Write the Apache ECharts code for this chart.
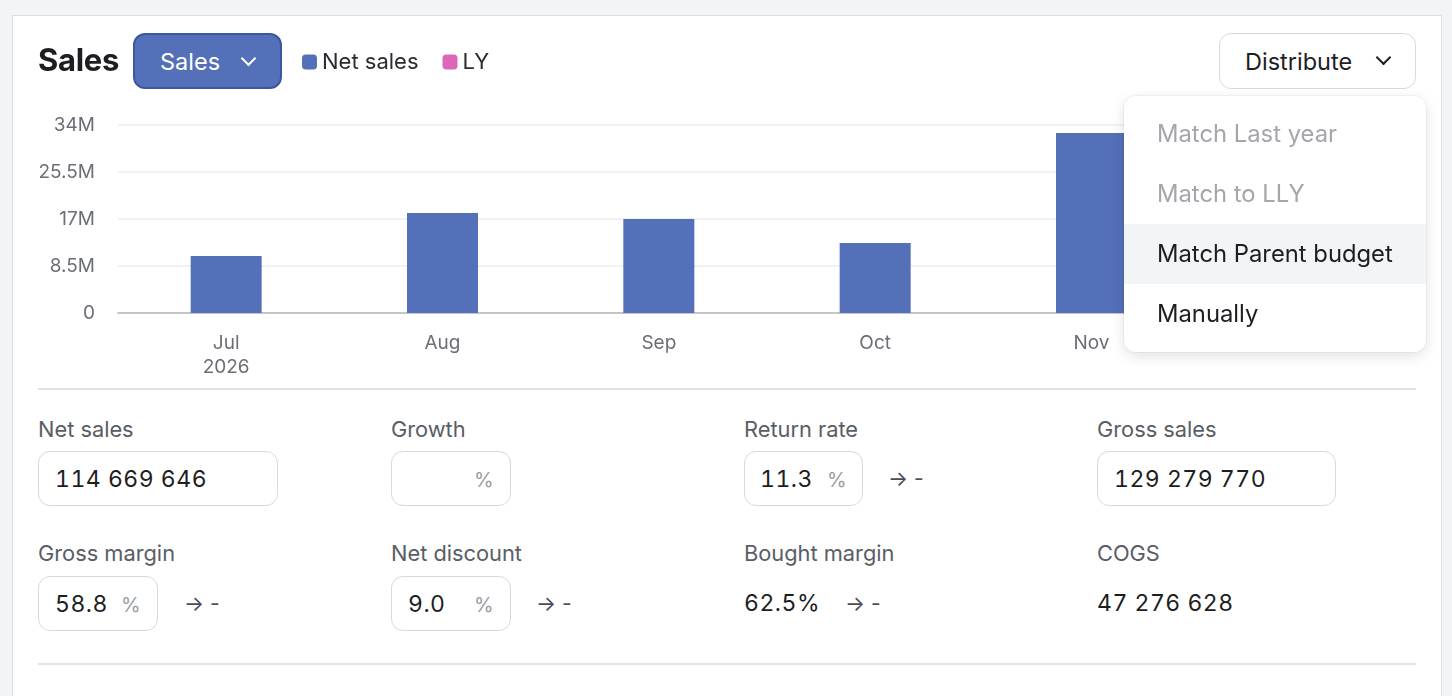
<!DOCTYPE html>
<html>
<head>
<meta charset="utf-8">
<script src="https://cdn.jsdelivr.net/npm/echarts@6/dist/echarts.min.js"></script>
<style>
  html, body { margin: 0; padding: 0; }
  body {
    width: 1452px; height: 696px; overflow: hidden; position: relative;
    background: #f3f4f6; font-family: Inter, "Noto Sans", sans-serif;
  }
  .card {
    position: absolute; left: 12px; top: 15px; width: 1428px; height: 700px;
    background: #fff; border-left: 1.5px solid #dedfe3; border-right: 1.5px solid #dedfe3;
    border-top: 1.5px solid #dedfe3;
  }
  #chart { position: absolute; left: 0; top: 0; width: 1452px; height: 390px; }
  .abs { position: absolute; }
  .title { left: 38px; top: 41px; font-size: 31px; font-weight: 700; color: #1d1e22; letter-spacing: -0.3px; }
  .btn {
    box-sizing: border-box; border-radius: 12px; display: flex; align-items: center;
    font-size: 23.5px;
  }
  .sales-btn { left: 133px; top: 33px; width: 149px; height: 56px; background: #5470b8; border: 2px solid #3c56a4; color: #fff; padding-left: 25px; }
  .dist-btn { left: 1219px; top: 33px; width: 197px; height: 56px; background: #fff; border: 1.5px solid #d7d9de; color: #1d1e22; padding-left: 25px; }
  .chev { position: absolute; top: 21px; width: 9px; height: 9px; border-right: 2px solid currentColor; border-bottom: 2px solid currentColor; transform: rotate(45deg); }
  .menu {
    left: 1124px; top: 96px; width: 302px; height: 256px; background: #fff; border-radius: 12px;
    box-shadow: 0 4px 14px rgba(0,0,0,0.12), 0 0 0 1px rgba(0,0,0,0.04); overflow: hidden; z-index: 5;
  }
  .item { position: absolute; left: 0; width: 302px; height: 60px; line-height: 60px; padding-left: 33px; box-sizing: border-box; font-size: 23.8px; color: #1d1e22; }
  .item.dis { color: #a4a6ac; }
  .item.hl { background: #f3f4f6; }
  .line { height: 2px; background: #e2e3e7; left: 38px; width: 1378px; }
  .lbl { font-size: 21.8px; color: #5a5d65; }
  .inp {
    box-sizing: border-box; height: 55px; border: 1.5px solid #d7d9de; border-radius: 12px;
    font-size: 23px; color: #1d1e22; background: #fff;
  }
  .inp span { position: absolute; top: 13px; }
  .num { font-variant-numeric: tabular-nums; letter-spacing: 0.5px; }
  .pct { color: #9a9ca3; font-size: 20px; }
  .val { font-size: 23px; color: #1d1e22; }
  .arr { font-size: 21px; color: #4a4d55; }
</style>
</head>
<body>
<div class="card"></div>
<div id="chart"></div>

<div class="abs title">Sales</div>
<div class="abs btn sales-btn">Sales<div class="chev" style="left:108px;top:18px"></div></div>
<div class="abs btn dist-btn">Distribute<div class="chev" style="left:158px;top:18px;color:#1d1e22"></div></div>

<div class="abs menu">
  <div class="item dis" style="top:8px">Match Last year</div>
  <div class="item dis" style="top:68px">Match to LLY</div>
  <div class="item hl" style="top:128px">Match Parent budget</div>
  <div class="item" style="top:188px">Manually</div>
</div>

<div class="abs line" style="top:388px"></div>
<div class="abs line" style="top:663px"></div>

<div class="abs lbl" style="left:38px;top:416px">Net sales</div>
<div class="abs inp" style="left:38px;top:451px;width:240px"><span class="num" style="left:16px">114 669 646</span></div>
<div class="abs lbl" style="left:391px;top:416px">Growth</div>
<div class="abs inp" style="left:391px;top:451px;width:120px"><span class="pct" style="left:82px;top:16px">%</span></div>
<div class="abs lbl" style="left:744px;top:416px">Return rate</div>
<div class="abs inp" style="left:744px;top:451px;width:119px"><span class="num" style="left:15px">11.3</span><span class="pct" style="left:82px;top:16px">%</span></div>
<div class="abs arr" style="left:888px;top:466px">→ -</div>
<div class="abs lbl" style="left:1097px;top:416px">Gross sales</div>
<div class="abs inp" style="left:1097px;top:451px;width:239px"><span class="num" style="left:16px">129 279 770</span></div>

<div class="abs lbl" style="left:38px;top:540px">Gross margin</div>
<div class="abs inp" style="left:38px;top:576px;width:120px"><span class="num" style="left:16px">58.8</span><span class="pct" style="left:82px;top:16px">%</span></div>
<div class="abs arr" style="left:184px;top:591px">→ -</div>
<div class="abs lbl" style="left:391px;top:540px">Net discount</div>
<div class="abs inp" style="left:391px;top:576px;width:120px"><span class="num" style="left:16px">9.0</span><span class="pct" style="left:82px;top:16px">%</span></div>
<div class="abs arr" style="left:536px;top:591px">→ -</div>
<div class="abs lbl" style="left:744px;top:540px">Bought margin</div>
<div class="abs val num" style="left:744px;top:589px">62.5%</div>
<div class="abs arr" style="left:845px;top:591px">→ -</div>
<div class="abs lbl" style="left:1097px;top:540px">COGS</div>
<div class="abs val num" style="left:1097px;top:589px">47 276 628</div>

<script>
// 月份与数值
const months = ['Jul', 'Aug', 'Sep', 'Oct', 'Nov', 'Dec'];
const yearLabel = '2026';
const netSales = [10300000, 18100000, 17000000, 12650000, 32550000, 24070000];
const lastYear = [];
const yTicks = [0, 8500000, 17000000, 25500000, 34000000];

function fmtM(v) {
  if (v === 0) return '0';
  return (v / 1000000) + 'M';
}

const chart = echarts.init(document.getElementById('chart'), null, { renderer: 'canvas' });

chart.setOption({
  animation: false,
  textStyle: { fontFamily: 'Inter' },
  color: ['#5470b8', '#de66b8'],
  legend: {
    left: 297,
    top: 46,
    itemWidth: 15,
    itemHeight: 15,
    itemGap: 24,
    icon: 'roundRect',
    textStyle: { fontSize: 22, color: '#2a2c32', padding: [0, 0, 0, 0] },
    data: ['Net sales', 'LY']
  },
  grid: { left: 118, right: 36, top: 125, bottom: 77, containLabel: false },
  xAxis: {
    type: 'category',
    data: months,
    axisTick: { show: false },
    axisLine: { lineStyle: { color: '#c3c5cb', width: 2 } },
    axisLabel: {
      margin: 18,
      fontSize: 19,
      lineHeight: 24,
      color: '#6b6e76',
      formatter: function (v, i) { return i === 0 ? v + '\n' + yearLabel : v; }
    }
  },
  yAxis: {
    type: 'value',
    min: yTicks[0],
    max: yTicks[yTicks.length - 1],
    interval: yTicks[1] - yTicks[0],
    axisLine: { show: false },
    axisTick: { show: false },
    splitLine: { lineStyle: { color: '#ededef', width: 1.5 } },
    axisLabel: { margin: 23, fontSize: 19, color: '#6b6e76', formatter: fmtM }
  },
  series: [
    { name: 'Net sales', type: 'bar', data: netSales, barWidth: 71, barGap: '-100%' },
    { name: 'LY', type: 'bar', data: lastYear, barWidth: 71, barGap: '-100%' }
  ]
});
</script>
</body>
</html>
